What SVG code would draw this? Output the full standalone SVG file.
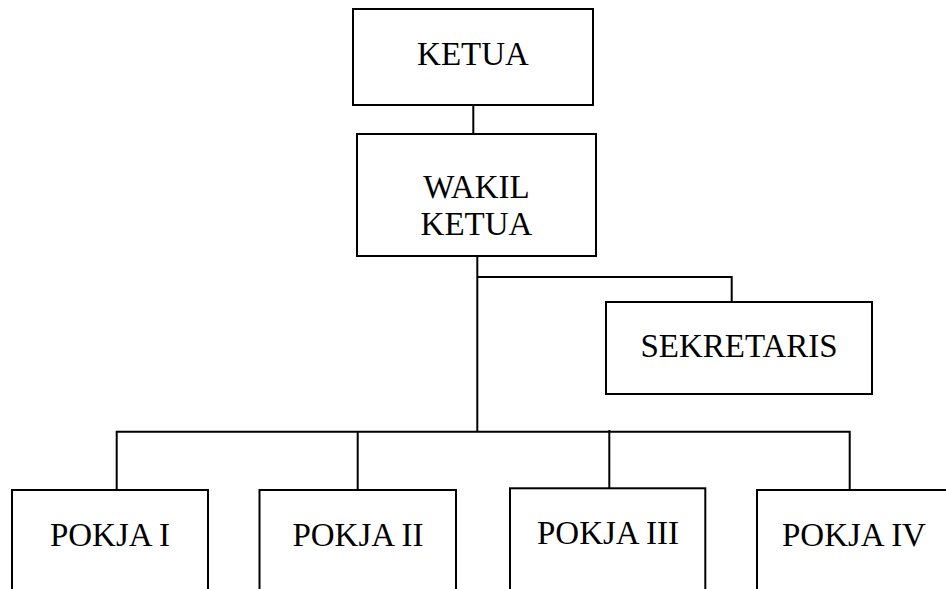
<svg xmlns="http://www.w3.org/2000/svg" width="946" height="589" viewBox="0 0 946 589">
<style>
.box{fill:#fff;stroke:#000;stroke-width:2}
.lbl{font-family:"Liberation Serif","DejaVu Serif",serif;font-size:33px;fill:#000;text-anchor:middle}
.con{fill:none;stroke:#000;stroke-width:2}
</style>
<rect width="946" height="589" fill="#fff"/>
<g id="connectors">
<path class="con" d="M473.3 105V134"/>
<path class="con" d="M477.3 256V431.7"/>
<path class="con" d="M477.3 277H731.7V302"/>
<path class="con" d="M116.7 490V431.7H849.7V490"/>
<path class="con" d="M357.7 431.7V490"/>
<path class="con" d="M609.3 430V488.3"/>
</g>
<g id="ketua"><rect class="box" x="353" y="9" width="240" height="96"/><text class="lbl" x="473" y="65">KETUA</text></g>
<g id="wakil"><rect class="box" x="357" y="134" width="239" height="122"/><text class="lbl" x="476.5" y="198">WAKIL</text><text class="lbl" x="476.5" y="235">KETUA</text></g>
<g id="sekretaris"><rect class="box" x="606" y="302" width="266" height="92"/><text class="lbl" x="739" y="357">SEKRETARIS</text></g>
<g id="pokja1"><rect class="box" x="12" y="490" width="196" height="120"/><text class="lbl" x="110" y="546">POKJA I</text></g>
<g id="pokja2"><rect class="box" x="259.5" y="490" width="196.5" height="120"/><text class="lbl" x="358" y="546">POKJA II</text></g>
<g id="pokja3"><rect class="box" x="510" y="488.3" width="195.3" height="120"/><text class="lbl" x="608" y="544">POKJA III</text></g>
<g id="pokja4"><rect class="box" x="757" y="490" width="200" height="120"/><text class="lbl" x="854" y="546">POKJA IV</text></g>
</svg>
